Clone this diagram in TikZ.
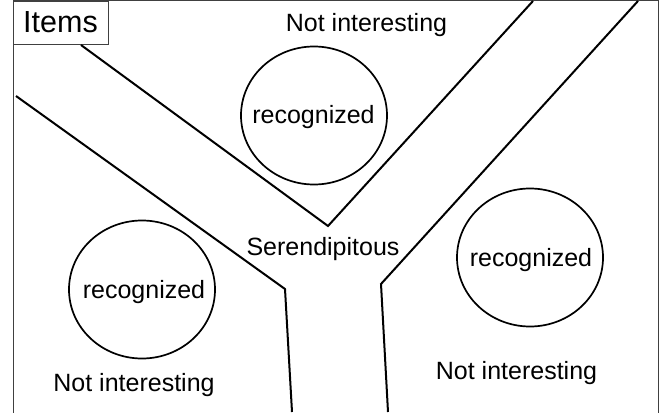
\documentclass[tikz,border=0pt]{standalone}
\usepackage{fontspec}
\setmainfont{Liberation Sans}
\usetikzlibrary{shapes.geometric}
\begin{document}
\begin{tikzpicture}[x=1pt,y=-1pt,
  frame/.style={draw=black!75,line width=1pt},
  wall/.style={draw=black,line width=2pt,line join=miter},
  region/.style={draw=black,line width=1.7pt,ellipse,minimum width=146pt,minimum height=138pt,inner sep=0pt},
  lbl/.style={font=\fontsize{25}{25}\selectfont,anchor=base,inner sep=0pt}]
\useasboundingbox (0,0) rectangle (663,412);
\fill[white] (0,0) rectangle (663,412);
% outer frame
\draw[frame] (13,414) -- (13,1) -- (658,1) -- (658,414);
% Items label box
\node[frame,draw,rectangle,anchor=north west,minimum width=95pt,minimum height=43pt,inner sep=0pt] (items) at (13,1) {};
\node[font=\fontsize{30.5}{30.5}\selectfont,anchor=base,inner sep=0pt] (itemstext) at (60.5,33) {Items};
% walls
\coordinate (a1) at (81,45);
\coordinate (a2) at (328,226);
\coordinate (a3) at (533,1);
\coordinate (b1) at (16,96);
\coordinate (b2) at (285,289);
\coordinate (b3) at (292,412);
\coordinate (c1) at (638,1);
\coordinate (c2) at (381,284);
\coordinate (c3) at (388,412);
\draw[wall] (a1) -- (a2) -- (a3);
\draw[wall] (b1) -- (b2) -- (b3);
\draw[wall] (c1) -- (c2) -- (c3);
% circles
\node[region] (rtop) at (314,115.5) {};
\node[region] (rright) at (530,257.5) {};
\node[region] (rleft) at (142,289.5) {};
\node[lbl] (t1) at (313.5,123) {recognized};
\node[lbl] (t2) at (531,266.5) {recognized};
\node[lbl] (t3) at (144,298) {recognized};
% texts
\node[lbl] (n1) at (366.5,32) {Not interesting};
\node[lbl] (n2) at (516.5,379) {Not interesting};
\node[lbl] (n3) at (134,391) {Not interesting};
\node[lbl] (s) at (323,255) {Serendipitous};
\end{tikzpicture}
\end{document}
